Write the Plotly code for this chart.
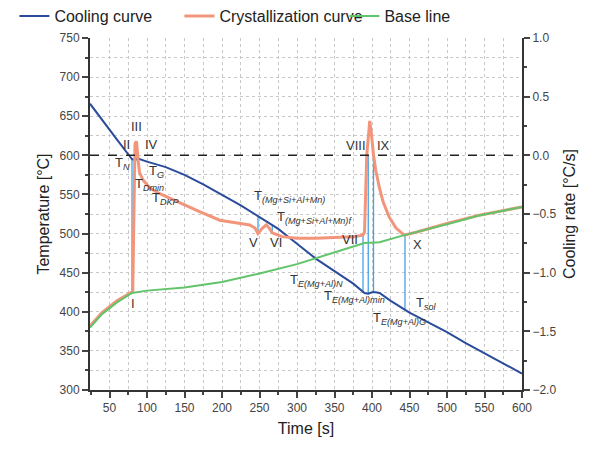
import plotly.graph_objects as go

# ---- data ----
time_cool = [24, 40, 60, 80, 83, 88, 100, 125, 150, 175, 200, 225, 250, 275, 300, 325, 350,
             375, 390, 395, 400, 405, 410, 425, 450, 475, 500, 525, 550, 575, 600]
temp_cool = [666, 645, 620, 595, 594, 596, 592, 585, 575, 563, 550, 536, 521, 506, 487, 468, 452,
             436, 424, 423, 425, 425, 424, 414, 399, 387, 374, 360, 347, 334, 321]

time_cryst = [24, 40, 60, 78, 81, 84, 86, 88, 90, 95, 104, 117, 144, 170, 197, 237, 244, 248, 253,
              259, 263, 267, 280, 300, 325, 350, 375, 388, 390, 393, 396, 397, 399, 402, 405, 410,
              415, 423, 432, 443, 460, 500, 543, 600]
rate_cryst = [-1.455, -1.34, -1.24, -1.175, -1.16, 0.10, 0.12, -0.033, -0.147, -0.213, -0.28,
              -0.327, -0.407, -0.48, -0.553, -0.593, -0.62, -0.667, -0.627, -0.593, -0.62, -0.66,
              -0.693, -0.707, -0.707, -0.70, -0.693, -0.68, -0.653, 0.0, 0.267, 0.293, 0.20, 0.0,
              -0.127, -0.28, -0.40, -0.527, -0.62, -0.68, -0.653, -0.58, -0.51, -0.44]

time_base = [24, 40, 60, 80, 100, 150, 200, 250, 300, 350, 390, 410, 443, 500, 543, 600]
rate_base = [-1.467, -1.353, -1.253, -1.173, -1.153, -1.127, -1.08, -1.007, -0.927, -0.827,
             -0.747, -0.74, -0.68, -0.587, -0.513, -0.44]

# characteristic points: time, lower / upper temperature of marker line
event_time = [80, 85, 248, 267, 388, 395, 402, 444]
event_low = [425, 592, 500, 501, 424, 423, 425, 402]
event_high = [597, 600, 521, 512, 498, 600, 600, 498]

x_ticks = list(range(50, 601, 50))
y_ticks = list(range(300, 751, 50))
y2_ticks = [-2.0, -1.5, -1.0, -0.5, 0.0, 0.5, 1.0]

FONT = "Liberation Sans, Arial, sans-serif"
BLUE = "#2b4c9b"
SALMON = "#f2957a"
GREEN = "#62c46a"
LBLUE = "#45a4e6"

fig = go.Figure()

# marker lines
for t, lo, hi in zip(event_time, event_low, event_high):
    fig.add_trace(go.Scatter(x=[t, t], y=[lo, hi], mode="lines",
                             line=dict(color=LBLUE, width=1.3), showlegend=False,
                             hoverinfo="skip"))

fig.add_trace(go.Scatter(x=time_cryst, y=rate_cryst, yaxis="y2", mode="lines",
                         name="Crystallization curve", legendrank=2,
                         line=dict(color=SALMON, width=3)))
fig.add_trace(go.Scatter(x=time_base, y=rate_base, yaxis="y2", mode="lines",
                         name="Base line", legendrank=3, line=dict(color=GREEN, width=2)))
fig.add_trace(go.Scatter(x=time_cool, y=temp_cool, mode="lines",
                         name="Cooling curve", legendrank=1, line=dict(color=BLUE, width=2)))

# zero line for cooling rate
fig.add_shape(type="line", xref="paper", x0=0, x1=1, yref="y2", y0=0, y1=0,
              line=dict(color="#222", width=1.5, dash="dash"))

labels = [
    ("I", 81, 411), ("II", 72, 614), ("III", 86, 637), ("IV", 106, 614),
    ("T<sub><i>N</i></sub>", 67, 589), ("T<sub><i>G</i></sub>", 113, 579),
    ("T<sub><i>Dmin</i></sub>", 103, 563), ("T<sub><i>DKP</i></sub>", 125, 545),
    ("T<sub><i>(Mg+Si+Al+Mn)</i></sub>", 290, 547),
    ("T<sub><i>(Mg+Si+Al+Mn)f</i></sub>", 323, 521),
    ("V", 242, 489), ("VI", 272, 488), ("VII", 371, 492),
    ("VIII", 379, 612), ("IX", 415, 612), ("X", 460, 486),
    ("T<sub><i>E(Mg+Al)N</i></sub>", 326, 440),
    ("T<sub><i>E(Mg+Al)min</i></sub>", 377, 419),
    ("T<sub><i>sol</i></sub>", 473, 411),
    ("T<sub><i>E(Mg+Al)G</i></sub>", 437, 391),
]
for txt, lx, ly in labels:
    fig.add_annotation(x=lx, y=ly, xref="x", yref="y", text=txt, showarrow=False,
                       font=dict(family=FONT, size=13, color="#333"))

grid = dict(showgrid=True, gridcolor="#c8c8c8", griddash="dot", gridwidth=1)

# page body adds an 8px offset, so the figure is sized/shifted to compensate
fig.update_layout(
    width=587, height=441,
    margin=dict(l=82, r=73, t=30, b=59, autoexpand=False),
    paper_bgcolor="white", plot_bgcolor="white",
    font=dict(family=FONT, color="#333"),
    legend=dict(orientation="h", xref="paper", yref="paper", x=-0.175, y=1.0625,
                yanchor="middle", xanchor="left", font=dict(size=16, color="#222"),
                entrywidth=120, bgcolor="rgba(0,0,0,0)"),
    xaxis=dict(range=[24, 600], tickvals=x_ticks, ticks="outside", ticklen=6, tickwidth=1.5,
               showline=True, linecolor="#333", linewidth=2,
               tickfont=dict(size=12, color="#444"),
               title=dict(text="Time [s]", font=dict(size=16, color="#222"), standoff=8),
               minor=dict(dtick=25, ticks="outside", ticklen=3, showgrid=True,
                          gridcolor="#c8c8c8", griddash="dot"),
               zeroline=False, **grid),
    yaxis=dict(range=[300, 750], tickvals=y_ticks, ticks="outside", ticklen=6, tickwidth=1.5,
               showline=True, linecolor="#333", linewidth=2,
               tickfont=dict(size=12, color="#444"),
               title=dict(text="Temperature [°C]", font=dict(size=16, color="#222"), standoff=6),
               minor=dict(dtick=25, ticks="outside", ticklen=3, showgrid=True,
                          gridcolor="#c8c8c8", griddash="dot"),
               zeroline=False, **grid),
    yaxis2=dict(range=[-2, 1], tickvals=y2_ticks, tickformat=".1f", overlaying="y", side="right",
                ticks="outside", ticklen=6, tickwidth=1.5, showline=True, linecolor="#333",
                linewidth=2, tickfont=dict(size=12, color="#444"), showgrid=False,
                minor=dict(dtick=0.25, ticks="outside", ticklen=3),
                title=dict(text="Cooling rate [°C/s]", font=dict(size=16, color="#222"),
                           standoff=8),
                zeroline=False),
)

fig.write_html("out.html")
